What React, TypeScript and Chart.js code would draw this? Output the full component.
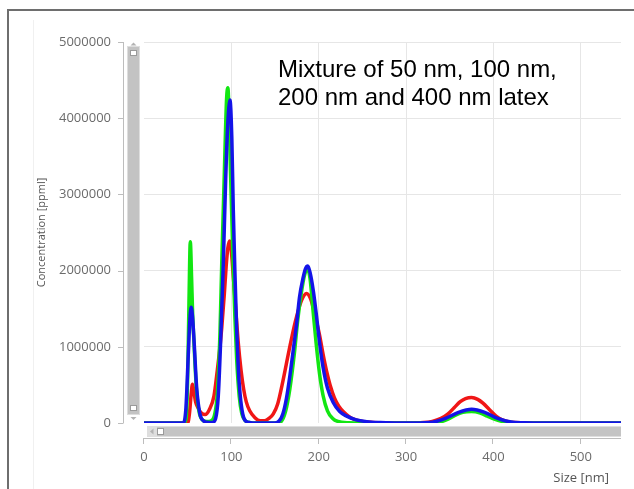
import React, { useEffect, useRef } from 'react';
import { Chart, registerables } from 'chart.js';

Chart.register(...registerables);

// ---- data ----
const sizeMax = 546;
const concentrationMax = 5000000;
const xStep = 100;
const yStep = 1000000;

const annotationLines = ['Mixture of 50 nm, 100 nm,', '200 nm and 400 nm latex'];
const yAxisTitle = 'Concentration [ppml]';
const xAxisTitle = 'Size [nm]';

const redSizes = [0, 46, 50, 52, 54, 55.5, 57, 59, 61.8, 65, 70, 75, 80, 84, 87, 89, 92, 94, 96, 98, 100, 102, 105, 108, 111, 114, 117, 121, 127, 133, 138, 143, 148, 153, 159, 166, 173, 180, 186, 191, 196, 201, 205, 209, 213, 218, 223, 228, 234, 240, 250, 262, 280, 300, 320, 330, 340, 348, 355, 362, 368, 375, 382, 388, 395, 403, 410, 420, 435, 450, 546];
const redValues = [0, 0, 0, 120000, 380000, 510000, 420000, 280000, 200000, 140000, 110000, 180000, 350000, 700000, 1000000, 1250000, 1700000, 2050000, 2300000, 2390000, 2250000, 1960000, 1500000, 1040000, 700000, 450000, 280000, 160000, 70000, 30000, 30000, 60000, 120000, 250000, 550000, 950000, 1320000, 1600000, 1700000, 1620000, 1400000, 1150000, 900000, 680000, 500000, 330000, 220000, 150000, 90000, 50000, 20000, 8000, 2000, 0, 5000, 20000, 60000, 120000, 200000, 280000, 320000, 335000, 310000, 260000, 180000, 90000, 40000, 10000, 2000, 0, 0];

const greenSizes = [0, 45, 48, 50, 51.5, 53, 54.5, 55.5, 57, 60, 63, 67, 72, 77, 81, 84, 87, 89, 92, 94.5, 96, 97.5, 99, 102, 104, 106, 109, 112, 116, 122, 135, 152, 157, 162, 167, 172, 176, 180, 184, 187, 190, 193.7, 197, 201, 205, 210, 216, 222, 235, 250, 330, 338, 348, 356, 365, 375, 385, 393, 401, 410, 420, 435, 546];
const greenValues = [0, 0, 50000, 600000, 1600000, 2380000, 1900000, 1500000, 1100000, 450000, 150000, 40000, 20000, 30000, 120000, 400000, 1200000, 2100000, 3300000, 4250000, 4400000, 4000000, 3300000, 2100000, 1400000, 850000, 350000, 120000, 30000, 5000, 0, 0, 20000, 150000, 450000, 900000, 1350000, 1700000, 1950000, 2020000, 1900000, 1450000, 1050000, 640000, 360000, 160000, 60000, 20000, 3000, 0, 0, 10000, 50000, 100000, 140000, 150000, 130000, 90000, 50000, 20000, 5000, 0, 0];

const blueSizes = [0, 45, 48, 50.7, 52.5, 54, 55.5, 57.2, 60.3, 64, 68, 72, 78, 82, 85, 87.5, 90.8, 93.5, 95.8, 98.4, 100.5, 102.2, 104, 106, 108, 110, 113, 116, 122, 135, 150, 155, 159, 163, 167, 171, 174.7, 178, 182, 185, 187.5, 190, 194, 197.6, 201, 205, 210, 216.6, 224, 232, 242, 255, 270, 290, 310, 330, 345, 360, 375, 390, 405, 420, 435, 450, 546];
const blueValues = [0, 0, 200000, 900000, 1350000, 1520000, 1400000, 1100000, 460000, 120000, 30000, 10000, 5000, 60000, 350000, 1000000, 2100000, 3200000, 3900000, 4240000, 3750000, 2800000, 2000000, 1250000, 700000, 380000, 120000, 30000, 5000, 0, 0, 30000, 120000, 320000, 620000, 970000, 1300000, 1650000, 1900000, 2030000, 2060000, 1980000, 1720000, 1390000, 1050000, 730000, 460000, 270000, 150000, 90000, 45000, 18000, 6000, 1000, 0, 10000, 60000, 140000, 180000, 140000, 60000, 12000, 2000, 0, 0];

const toPoints = (xs: number[], ys: number[]) => xs.map((x, i) => ({ x, y: ys[i] }));

const tickFont = { family: '"Open Sans", "DejaVu Sans", sans-serif', size: 13 };

const decorPlugin = {
  id: 'decor',
  beforeDraw(chart: any) {
    const { ctx } = chart;
    ctx.save();
    ctx.fillStyle = '#ffffff';
    ctx.fillRect(0, 0, chart.width, chart.height);
    ctx.restore();
  },
  afterDraw(chart: any) {
    const { ctx, chartArea: a, scales } = chart;
    const xs = scales.x;
    const ys = scales.y;
    ctx.save();

    // panel frame
    ctx.fillStyle = '#6e6e6e';
    ctx.fillRect(7, 9, chart.width - 7, 2);
    ctx.fillRect(7, 9, 2, chart.height - 9);
    ctx.fillStyle = '#f0f0f0';
    ctx.fillRect(33, 20, 1, chart.height - 20);

    // y axis line + tick marks
    ctx.strokeStyle = '#bdbdbd';
    ctx.lineWidth = 1;
    const axX = a.left - 20.5;
    ctx.beginPath();
    ctx.moveTo(axX, ys.getPixelForValue(concentrationMax));
    ctx.lineTo(axX, ys.getPixelForValue(0));
    ys.ticks.forEach((t: any) => {
      const py = Math.round(ys.getPixelForValue(t.value)) + 0.5;
      ctx.moveTo(a.left - 26, py);
      ctx.lineTo(axX, py);
    });
    ctx.stroke();

    // vertical scrollbar
    const vbL = a.left - 16;
    const vbTop = a.top + 5;
    const vbBot = a.bottom - 9;
    ctx.fillStyle = '#dedede';
    ctx.fillRect(vbL - 1, vbTop - 1, 13, vbBot - vbTop + 2);
    ctx.fillStyle = '#c3c3c3';
    ctx.fillRect(vbL, vbTop, 11, vbBot - vbTop);
    ctx.fillStyle = '#ffffff';
    ctx.strokeStyle = '#9a9a9a';
    ctx.fillRect(vbL + 2, vbTop + 3, 7, 6);
    ctx.strokeRect(vbL + 2.5, vbTop + 3.5, 6, 5);
    ctx.fillRect(vbL + 2, vbBot - 9, 7, 6);
    ctx.strokeRect(vbL + 2.5, vbBot - 8.5, 6, 5);
    ctx.fillStyle = '#b3b3b3';
    ctx.beginPath();
    ctx.moveTo(vbL + 5.5, a.top + 0.5);
    ctx.lineTo(vbL + 8.5, a.top + 3.5);
    ctx.lineTo(vbL + 2.5, a.top + 3.5);
    ctx.closePath();
    ctx.fill();
    ctx.beginPath();
    ctx.moveTo(vbL + 5.5, vbBot + 6);
    ctx.lineTo(vbL + 8.5, vbBot + 3);
    ctx.lineTo(vbL + 2.5, vbBot + 3);
    ctx.closePath();
    ctx.fill();

    // horizontal scrollbar
    const hbTop = a.bottom + 4;
    const hbL = a.left + 4;
    ctx.fillStyle = '#dedede';
    ctx.fillRect(hbL - 1, hbTop - 1, a.right - hbL + 1, 11);
    ctx.fillStyle = '#c4c4c4';
    ctx.fillRect(hbL + 9, hbTop, a.right - hbL - 9, 9);
    ctx.fillStyle = '#ffffff';
    ctx.fillRect(hbL + 9, hbTop + 1.5, 7, 6);
    ctx.strokeStyle = '#9a9a9a';
    ctx.strokeRect(hbL + 9.5, hbTop + 1.5, 6, 6);
    ctx.fillStyle = '#b3b3b3';
    ctx.beginPath();
    ctx.moveTo(hbL + 2, hbTop + 4.5);
    ctx.lineTo(hbL + 5.5, hbTop + 1.5);
    ctx.lineTo(hbL + 5.5, hbTop + 7.5);
    ctx.closePath();
    ctx.fill();

    // x axis line + tick marks
    ctx.strokeStyle = '#bdbdbd';
    const axY = a.bottom + 15.5;
    ctx.beginPath();
    ctx.moveTo(a.left - 1, axY);
    ctx.lineTo(a.right, axY);
    xs.ticks.forEach((t: any) => {
      const px = Math.round(xs.getPixelForValue(t.value)) - 0.5;
      ctx.moveTo(px, axY);
      ctx.lineTo(px, axY + 5.5);
    });
    ctx.stroke();

    // x axis title
    ctx.fillStyle = '#555555';
    ctx.font = '13px "Open Sans", "DejaVu Sans", sans-serif';
    ctx.textAlign = 'right';
    ctx.textBaseline = 'middle';
    ctx.fillText(xAxisTitle, a.right - 12, chart.height - 11);

    // annotation
    ctx.fillStyle = '#000000';
    ctx.font = '24px "Liberation Sans", Arial, sans-serif';
    ctx.textAlign = 'left';
    ctx.textBaseline = 'alphabetic';
    annotationLines.forEach((line, i) => {
      ctx.fillText(line, a.left + 134, a.top + 35 + i * 28);
    });

    ctx.restore();
  },
};

export default function App() {
  const ref = useRef<HTMLCanvasElement | null>(null);

  useEffect(() => {
    if (!ref.current) return;
    const lineStyle = {
      borderWidth: 3.5,
      pointRadius: 0,
      fill: false,
      cubicInterpolationMode: 'monotone' as const,
      borderJoinStyle: 'round' as const,
      borderCapStyle: 'round' as const,
    };
    const gridColor = (c: any) => (c.tick && c.tick.value === 0 ? 'rgba(0,0,0,0)' : '#e6e6e6');
    const chart = new Chart(ref.current, {
      type: 'line',
      data: {
        datasets: [
          { label: 'Blue', data: toPoints(blueSizes, blueValues), borderColor: '#1414e8', ...lineStyle },
          { label: 'Green', data: toPoints(greenSizes, greenValues), borderColor: '#12e612', ...lineStyle },
          { label: 'Red', data: toPoints(redSizes, redValues), borderColor: '#f01616', ...lineStyle },
        ],
      },
      options: {
        responsive: false,
        animation: false,
        layout: { padding: { left: 31, top: 42, right: 13, bottom: 0 } },
        plugins: { legend: { display: false }, tooltip: { enabled: false } },
        elements: { point: { radius: 0 } },
        scales: {
          x: {
            type: 'linear',
            min: 0,
            max: sizeMax,
            afterFit: (s: any) => { s.height = 66; },
            border: { display: false },
            grid: { color: gridColor, drawTicks: false, lineWidth: 1 },
            ticks: {
              stepSize: xStep,
              includeBounds: false,
              padding: 26,
              color: '#6b6b6b',
              font: tickFont,
              maxRotation: 0,
              autoSkip: false,
            },
          },
          y: {
            type: 'linear',
            min: 0,
            max: concentrationMax,
            afterFit: (s: any) => { s.width = 113; },
            border: { display: false },
            grid: { color: gridColor, drawTicks: false, lineWidth: 1 },
            ticks: {
              stepSize: yStep,
              padding: 33,
              color: '#6b6b6b',
              font: tickFont,
              callback: (v: any) => String(v),
            },
            title: {
              display: true,
              text: yAxisTitle,
              color: '#555555',
              font: { family: '"Open Sans", "DejaVu Sans", sans-serif', size: 11 },
              padding: { top: 4, bottom: 4 },
            },
          },
        },
      },
      plugins: [decorPlugin],
    });
    return () => chart.destroy();
  }, []);

  return (
    <div style={{ position: 'fixed', left: 0, top: 0, width: 634, height: 489, background: '#fff' }}>
      <canvas ref={ref} width={634} height={489} style={{ display: 'block' }} />
    </div>
  );
}
